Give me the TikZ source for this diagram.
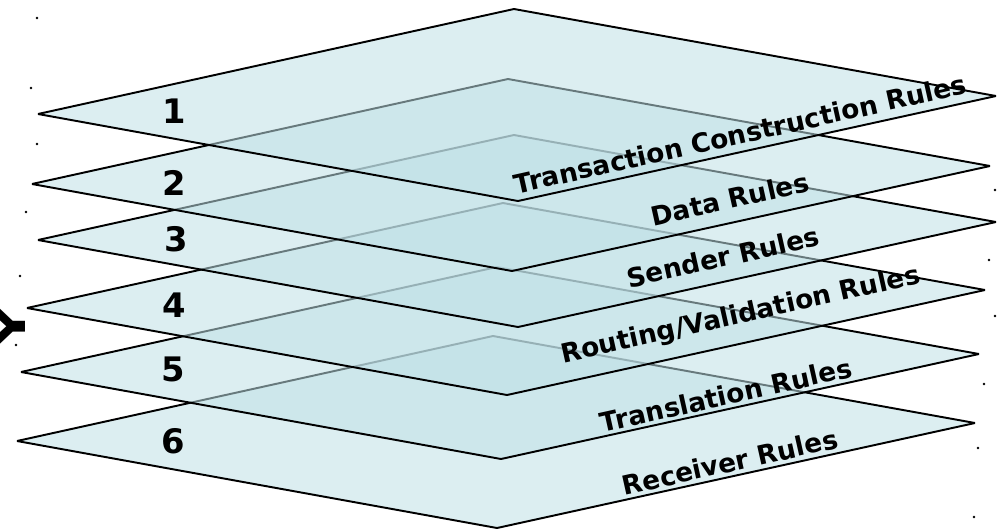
\documentclass[tikz,border=0pt]{standalone}
\usepackage{fontspec}
\setmainfont{DejaVu Sans}
\usetikzlibrary{positioning}

\begin{document}
\begin{tikzpicture}[
          x=0.01cm,
          y=-0.01cm,
          layer/.style={draw=black, line width=0.55pt, fill=layerblue, fill opacity=0.54, miter limit=3},
          number/.style={font=\fontsize{9.6pt}{11pt}\selectfont\bfseries, inner sep=0pt, text=black},
          rulename/.style={font=\fontsize{7.5pt}{9pt}\selectfont\bfseries, inner sep=0pt, rotate=12.6, text=black}
        ]
        \definecolor{layerblue}{HTML}{BFE0E6}
        \useasboundingbox (0,0) rectangle (1000,530);
        % bottom layer first, the upper ones lie over it
        \foreach \dx/\dy in {17/441, 21/372, 27/308, 38/240, 32/184, 38/114} {
          \draw[layer] (\dx,\dy) -- ++(476,-105) -- ++(482,87) -- ++(-478,105) -- cycle;
          \fill (\dx,\dy) ++(-1,-96) circle (1.4);
          \fill (\dx,\dy) ++(957,76) circle (1.4);
        }
        \node[number] (one) at (174,111) {1};
        \node[number] (two) at (174,183) {2};
        \node[number] (three) at (176,239) {3};
        \node[number] (four) at (174,305) {4};
        \node[number] (five) at (173,369) {5};
        \node[number] (six) at (173,441) {6};
        \node[rulename] (transaction) at (740,134) {Transaction Construction Rules};
        \node[rulename] (data) at (730,199) {Data Rules};
        \node[rulename] (sender) at (723,257) {Sender Rules};
        \node[rulename] (routing) at (741,316) {Routing/Validation Rules};
        \node[rulename] (translation) at (726,395) {Translation Rules};
        \node[rulename] (receiver) at (730,462) {Receiver Rules};
        \node[font=\fontsize{14.2pt}{16pt}\selectfont\bfseries, inner sep=0pt, rotate=90] (axis) at (10.5,327) {\scalebox{1.15}[0.8]{Y}};
\end{tikzpicture}
\end{document}
